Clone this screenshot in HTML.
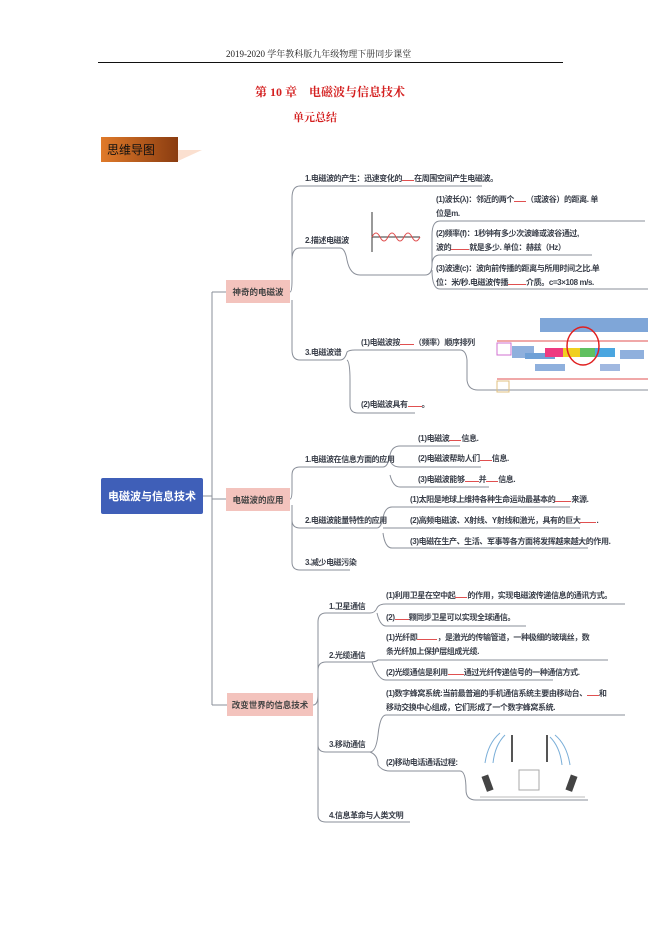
<!DOCTYPE html>
<html><head><meta charset="utf-8"><style>
*{margin:0;padding:0}
body{width:661px;height:935px;background:#fff;position:relative;overflow:hidden;font-family:"Liberation Sans","Noto Sans CJK SC",sans-serif;}
.t{position:absolute;font-size:8px;color:#3a3f4a;white-space:nowrap;font-weight:bold;line-height:14px;letter-spacing:-0.4px}
.b{position:absolute;display:flex;align-items:center;justify-content:center;font-weight:bold;}
.u{display:inline-block;border-bottom:1px solid #e05050;height:8px;vertical-align:baseline}
svg{position:absolute;left:0;top:0}
</style></head><body>
<div class="t" style="left:226px;top:47px;font-weight:normal;font-family:'Liberation Serif','Noto Serif CJK SC',serif;color:#222;font-size:9px;letter-spacing:0">2019-2020 学年教科版九年级物理下册同步课堂</div>
<div style="position:absolute;left:98px;top:62px;width:465px;height:1px;background:#111"></div>
<div class="t" style="left:255px;top:85px;color:#d42020;font-size:12px;letter-spacing:0;font-family:'Liberation Serif','Noto Serif CJK SC',serif">第 10 章&nbsp;&nbsp;&nbsp;&nbsp;电磁波与信息技术</div>
<div class="t" style="left:293px;top:111px;color:#d42020;font-size:11px;letter-spacing:0;font-family:'Liberation Serif','Noto Serif CJK SC',serif">单元总结</div>
<div class="b" style="left:101px;top:137px;width:77px;height:25px;background:linear-gradient(90deg,#e07a2a,#8a3c10);color:#111;font-size:12px;font-weight:normal;justify-content:flex-start;padding-left:6px;box-sizing:border-box">思维导图</div>

<svg width="661" height="935">
<polygon points="178,161 202,150 178,150" fill="#fbe0d0"/>
<g fill="none" stroke="#8a8f99" stroke-width="1">
<path d="M203,496 H212 M212,292 V705 M212,292 H226 M212,499 H226 M212,705 H227"/>
<path d="M290,292 Q292,292 292,280 V198 Q292,186 300,186 H482"/>
<path d="M292,260 Q292,248 300,248 H340 Q345,248 347,260 Q350,275 360,275 H425 Q432,275 432,265 V235 Q432,221 440,221 H645"/>
<path d="M432,265 Q432,255 440,255 H592 M432,270 Q432,289 440,289 H648"/>
<path d="M292,300 V350 Q292,360 300,360 H340 Q345,360 347,352 Q349,350 355,350 H460 Q466,350 467,360 V380 Q468,390 478,390 H648"/>
<path d="M347,360 Q350,362 350,380 V405 Q350,413 358,413 H415"/>
<path d="M290,499 Q292,499 292,490 V475 Q292,467 300,467 H383 Q388,467 390,455 Q392,446 400,446 H460 M390,460 Q392,467 400,467 H481 M390,475 Q393,487 400,487 H489"/>
<path d="M292,505 V520 Q292,528 300,528 H377 Q381,528 383,518 Q385,507 392,507 H570 M383,528 H580 M383,533 Q385,548 392,548 H588"/>
<path d="M292,520 V562 Q292,570 300,570 H350"/>
<path d="M313,705 Q318,705 318,695 V622 Q318,613 326,613 H370 Q375,613 377,608 Q379,604 386,604 H625 M377,613 Q380,626 386,626 H526"/>
<path d="M318,670 Q318,662 326,662 H370 Q376,662 378,660 H608 M372,662 Q378,680 386,680 H553"/>
<path d="M318,695 V745 Q318,752 326,752 H370 Q376,752 378,735 Q380,715 386,715 H625 M370,752 Q378,755 378,765 Q382,771 390,771 H460 Q466,771 466,790 Q466,800 476,800 H588"/>
<path d="M318,745 V815 Q318,822 326,822 H410"/>
</g>
<g stroke-width="1" fill="none">
<path d="M372,212 V252 M372,237 H420" stroke="#333"/>
<path d="M372,237 q4,-8 8,0 t8,0 t8,0 t8,0 t8,0 t8,0" stroke="#e05050"/>
</g>
<g>
<rect x="540" y="318" width="108" height="14" fill="#7fa6d8"/>
<line x1="497" y1="341" x2="648" y2="341" stroke="#e05050"/>
<line x1="497" y1="379" x2="648" y2="379" stroke="#e05050"/>
<rect x="497" y="343" width="14" height="12" fill="none" stroke="#d070d0"/>
<rect x="512" y="346" width="22" height="12" fill="#8fb0dd"/>
<rect x="525" y="353" width="30" height="6" fill="#6fa0d6"/>
<rect x="545" y="348" width="26" height="9" fill="#ee3a80"/>
<rect x="563" y="348" width="32" height="9" fill="#f0d020"/>
<rect x="580" y="348" width="16" height="9" fill="#60c060"/>
<rect x="595" y="348" width="20" height="9" fill="#4aa6e0"/>
<rect x="620" y="350" width="24" height="9" fill="#8fb0dd"/>
<rect x="535" y="364" width="30" height="7" fill="#8fb0dd"/>
<rect x="600" y="364" width="20" height="7" fill="#a0b8e0"/>
<ellipse cx="583" cy="346" rx="16" ry="19" fill="none" stroke="#e02020" stroke-width="1.5"/>
<rect x="497" y="381" width="12" height="11" fill="none" stroke="#e0c080"/>
</g>
<g stroke="#7aaed8" fill="none">
<path d="M500,733 q-12,10 -15,30 M505,735 q-10,10 -12,28 M555,735 q12,10 15,30 M550,737 q10,10 12,28"/>
<path d="M512,735 V762 M547,735 V762" stroke="#555" stroke-width="2"/>
<rect x="519" y="770" width="20" height="20" stroke="#aaa"/>
<rect x="484" y="775" width="7" height="16" fill="#444" stroke="none" transform="rotate(-20 488 783)"/>
<rect x="568" y="775" width="7" height="16" fill="#444" stroke="none" transform="rotate(20 571 783)"/>
<line x1="480" y1="797" x2="585" y2="797" stroke="#bbb"/>
</g>
</svg>

<div class="b" style="left:101px;top:478px;width:102px;height:36px;background:#3f5fb8;color:#fff;font-size:11px;border-radius:2px">电磁波与信息技术</div>
<div class="b" style="left:226px;top:280px;width:64px;height:23px;background:#f3c3bd;color:#444;font-size:8.5px">神奇的电磁波</div>
<div class="b" style="left:226px;top:488px;width:64px;height:23px;background:#f3c3bd;color:#444;font-size:8.5px">电磁波的应用</div>
<div class="b" style="left:227px;top:693px;width:86px;height:23px;background:#f3c3bd;color:#444;font-size:8.5px">改变世界的信息技术</div>

<div class="t" style="left:305px;top:172px">1.电磁波的产生：迅速变化的<span class="u" style="width:12px"></span>在周围空间产生电磁波。</div>
<div class="t" style="left:305px;top:234px">2.描述电磁波</div>
<div class="t" style="left:436px;top:193px">(1)波长(λ)：邻近的两个<span class="u" style="width:12px"></span>（或波谷）的距离. 单<br>位是m.</div>
<div class="t" style="left:436px;top:227px">(2)频率(f)：1秒钟有多少次波峰或波谷通过,<br>波的<span class="u" style="width:18px"></span>就是多少. 单位：赫兹（Hz）</div>
<div class="t" style="left:436px;top:262px">(3)波速(c)：波向前传播的距离与所用时间之比.单<br>位：米/秒.电磁波传播<span class="u" style="width:18px"></span>介质。c=3×108 m/s.</div>
<div class="t" style="left:305px;top:346px">3.电磁波谱</div>
<div class="t" style="left:361px;top:336px">(1)电磁波按<span class="u" style="width:14px"></span>（频率）顺序排列</div>
<div class="t" style="left:361px;top:398px">(2)电磁波具有<span class="u" style="width:14px"></span>。</div>

<div class="t" style="left:305px;top:453px">1.电磁波在信息方面的应用</div>
<div class="t" style="left:418px;top:432px">(1)电磁波<span class="u" style="width:12px"></span>信息.</div>
<div class="t" style="left:418px;top:452px">(2)电磁波帮助人们<span class="u" style="width:12px"></span>信息.</div>
<div class="t" style="left:418px;top:473px">(3)电磁波能够<span class="u" style="width:14px"></span>并<span class="u" style="width:12px"></span>信息.</div>
<div class="t" style="left:305px;top:514px">2.电磁波能量特性的应用</div>
<div class="t" style="left:410px;top:493px">(1)太阳是地球上维持各种生命运动最基本的<span class="u" style="width:16px"></span>来源.</div>
<div class="t" style="left:410px;top:514px">(2)高频电磁波、X射线、Y射线和激光，具有的巨大<span class="u" style="width:16px"></span>.</div>
<div class="t" style="left:410px;top:535px">(3)电磁在生产、生活、军事等各方面将发挥越来越大的作用.</div>
<div class="t" style="left:305px;top:556px">3.减少电磁污染</div>

<div class="t" style="left:329px;top:600px">1.卫星通信</div>
<div class="t" style="left:386px;top:589px">(1)利用卫星在空中起<span class="u" style="width:12px"></span>的作用，实现电磁波传递信息的通讯方式。</div>
<div class="t" style="left:386px;top:611px">(2)<span class="u" style="width:14px"></span>颗同步卫星可以实现全球通信。</div>
<div class="t" style="left:329px;top:649px">2.光缆通信</div>
<div class="t" style="left:386px;top:631px">(1)光纤即<span class="u" style="width:20px"></span>，是激光的传输管道，一种极细的玻璃丝，数<br>条光纤加上保护层组成光缆.</div>
<div class="t" style="left:386px;top:666px">(2)光缆通信是利用<span class="u" style="width:16px"></span>通过光纤传递信号的一种通信方式.</div>
<div class="t" style="left:329px;top:738px">3.移动通信</div>
<div class="t" style="left:386px;top:687px">(1)数字蜂窝系统:当前最普遍的手机通信系统主要由移动台、<span class="u" style="width:12px"></span>和<br>移动交换中心组成，它们形成了一个数字蜂窝系统.</div>
<div class="t" style="left:386px;top:756px">(2)移动电话通话过程:</div>
<div class="t" style="left:329px;top:809px">4.信息革命与人类文明</div>
</body></html>
